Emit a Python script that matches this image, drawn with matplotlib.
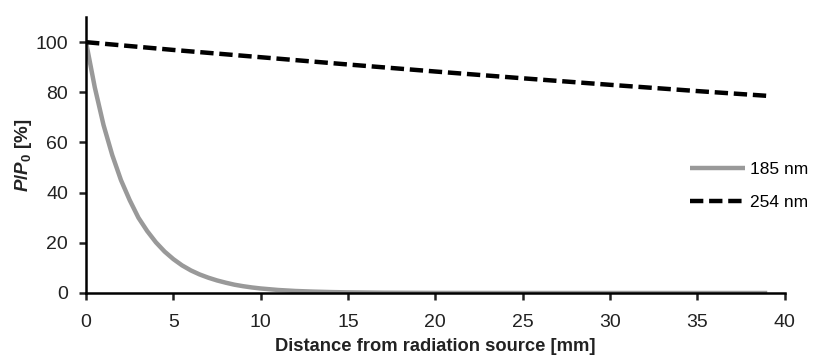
import matplotlib
matplotlib.use('Agg')
import matplotlib.pyplot as plt

plt.rcParams['font.family'] = ['Liberation Sans', 'DejaVu Sans']
plt.rcParams['mathtext.fontset'] = 'custom'
plt.rcParams['mathtext.rm'] = 'Liberation Sans:bold'
plt.rcParams['mathtext.it'] = 'Liberation Sans:bold:italic'

# values
dist_185 = [0, 0.5, 1, 1.5, 2, 2.5, 3, 3.5, 4, 4.5, 5, 5.5, 6, 6.5, 7, 7.5, 8, 8.5, 9,
            9.5, 10, 11, 12, 13, 14, 15, 17, 20, 25, 30, 35, 39]
p_185 = [100, 82, 67, 55, 45, 37, 30, 24.7, 20.2, 16.5, 13.5, 11, 9, 7.4, 6.1, 5.0,
         4.1, 3.3, 2.7, 2.2, 1.8, 1.2, 0.8, 0.55, 0.37, 0.25, 0.11, 0.03, 0, 0, 0, 0]

dist_254 = [0, 5, 10, 15, 20, 25, 30, 35, 39]
p_254 = [100, 96.9, 94.0, 91.1, 88.3, 85.6, 83.0, 80.5, 78.6]

fig = plt.figure(figsize=(8.14, 3.56), dpi=100)
ax = fig.add_axes([0.1057, 0.177, 0.8583, 0.775])

ax.plot(dist_185, p_185, color='#999999', lw=3.2, label='185 nm', solid_capstyle='butt')
ax.plot(dist_254, p_254, color='black', lw=3.2, dashes=(3.0, 1.3), label='254 nm')

ax.set_xlim(0, 40)
ax.set_ylim(0, 110)
ax.set_xticks(range(0, 41, 5))
ax.set_yticks(range(0, 101, 20))
for side in ['top', 'right']:
    ax.spines[side].set_visible(False)
for side in ['left', 'bottom']:
    ax.spines[side].set_linewidth(1.8)
ax.tick_params(direction='out', length=5, width=1.8, labelsize=14, colors='#222222')
ax.tick_params(axis='x', pad=10)
ax.tick_params(axis='y', pad=8)

ax.set_xlabel('Distance from radiation source [mm]', fontsize=13.2, fontweight='bold',
              labelpad=5.5, color='#222222')
ax.set_ylabel(r'$P/P_\mathit{0}$ [%]', fontsize=13.5, fontweight='bold', labelpad=1,
              color='#222222')

ax.legend(loc='center left', bbox_to_anchor=(0.854, 0.388), frameon=False, fontsize=12.5,
          handlelength=3.2, handletextpad=0.3, labelspacing=1.05, borderaxespad=0)

fig.savefig('out.png', dpi=100)
